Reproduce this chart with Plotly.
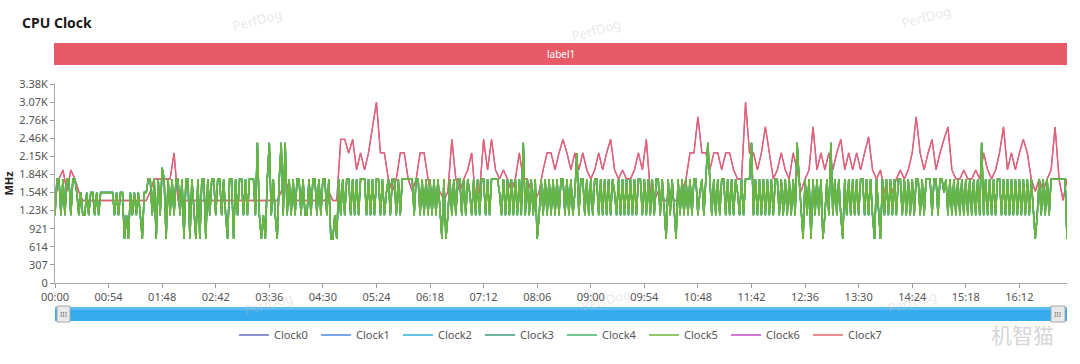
import plotly.graph_objects as go

# ---------------- data ----------------
# Clock0..Clock5 (little/mid cores, overlapping; Clock5 drawn on top) — one sample every 2 s
little_step_s = 2
clock5 = [
    1152, 1766, 1766, 1152, 1766, 1152, 1766, 1766, 1152, 1766,
    1766, 1536, 1152, 1536, 1152, 1152, 1536, 1152, 1536, 1536,
    1152, 1536, 1152, 1536, 1536, 1536, 1536, 1536, 1536, 1536,
    1152, 1536, 1152, 1536, 1536, 748, 1152, 748, 1536, 1152,
    1536, 1152, 1536, 1152, 748, 1536, 1536, 1766, 1766, 1152,
    1766, 748, 1766, 1152, 1958, 1766, 748, 1766, 1152, 1766,
    1152, 1766, 1766, 1152, 1766, 748, 1766, 1766, 748, 1766,
    1152, 748, 1766, 748, 1766, 1766, 748, 1766, 1152, 1766,
    1766, 1152, 1766, 1766, 1152, 1766, 1152, 748, 1766, 1766,
    748, 1766, 1152, 1766, 1766, 1152, 1766, 1152, 1766, 1766,
    1766, 1152, 2380, 1152, 748, 1152, 748, 1766, 2380, 1152,
    1766, 1152, 748, 1766, 2380, 1152, 2380, 1152, 1766, 1152,
    1766, 1152, 1766, 1766, 1152, 1766, 1152, 1152, 1766, 1152,
    1766, 1766, 1152, 1766, 1152, 1766, 1766, 1152, 1766, 748,
    748, 1152, 748, 1766, 1152, 1766, 1152, 1766, 1766, 1152,
    1766, 1152, 1766, 1152, 1766, 1766, 1766, 1152, 1766, 1152,
    1766, 1152, 1766, 1766, 1152, 1766, 1152, 1536, 1766, 1152,
    1766, 1766, 1152, 1766, 1152, 1766, 1766, 1766, 1766, 1766,
    1766, 1152, 1766, 1766, 1152, 1766, 1152, 1766, 1152, 1766,
    1152, 1766, 1152, 1766, 1152, 748, 1766, 748, 1152, 1766,
    1152, 1766, 1152, 1766, 1766, 1152, 1766, 1152, 1766, 1536,
    1152, 1766, 1152, 1766, 1152, 1766, 1766, 1152, 1766, 1152,
    1766, 1766, 1766, 1766, 1536, 1152, 1766, 1152, 1766, 1152,
    1766, 1152, 1766, 1152, 1766, 1152, 2380, 1152, 1766, 1152,
    1766, 1152, 1766, 748, 1152, 1766, 1152, 1766, 1152, 1766,
    1152, 1766, 1152, 1766, 1152, 1766, 1766, 1152, 1766, 1152,
    1766, 1152, 1536, 2208, 1152, 1766, 1766, 1152, 1766, 1152,
    1766, 1152, 1766, 1766, 1152, 1766, 1152, 1766, 1152, 1766,
    1152, 1766, 1536, 1152, 1766, 1152, 1766, 1152, 1766, 1152,
    1766, 1152, 1766, 1152, 1766, 1766, 1152, 1766, 1152, 1766,
    1152, 1766, 1152, 1766, 1766, 1152, 1766, 1152, 748, 1766,
    1152, 1766, 1152, 748, 1766, 1152, 1766, 1152, 1766, 1152,
    1766, 1152, 1766, 1766, 1152, 1536, 1766, 1152, 1766, 2380,
    1766, 1152, 1766, 1152, 1766, 1152, 1766, 1766, 1152, 1766,
    1152, 1766, 1152, 1766, 1536, 1152, 1766, 1152, 1766, 1766,
    1766, 2380, 1152, 1766, 1152, 1766, 1152, 1766, 1152, 1766,
    1152, 1766, 1152, 1766, 1766, 1152, 1766, 1152, 1766, 1152,
    1766, 1152, 1766, 1152, 2380, 1766, 1152, 748, 1766, 1152,
    1766, 748, 1766, 1152, 1766, 1152, 1766, 748, 1152, 1766,
    1152, 2380, 1152, 1766, 1152, 1766, 1152, 748, 1766, 1152,
    1766, 1152, 1766, 1152, 1766, 1152, 1766, 1766, 1152, 1766,
    1152, 1766, 1152, 748, 1766, 1152, 748, 1766, 1152, 1766,
    1152, 1766, 1152, 1766, 1152, 1766, 1766, 1152, 1766, 1152,
    1766, 1152, 1766, 1152, 1766, 1766, 1152, 1766, 1152, 1766,
    1766, 1766, 1152, 1766, 1766, 1152, 1766, 1766, 1536, 1766,
    1152, 1766, 1152, 1766, 1152, 1766, 1152, 1766, 1152, 1766,
    1152, 1766, 1152, 1766, 1152, 1766, 1152, 2380, 1152, 1766,
    1152, 1766, 1152, 1766, 1152, 1766, 1766, 1152, 1766, 1152,
    1766, 1152, 1766, 1152, 1766, 1152, 1766, 1152, 1766, 1152,
    1766, 1152, 1766, 1152, 748, 1152, 1766, 1152, 1766, 1152,
    1766, 1152, 1766, 1766, 1766, 1766, 1766, 1766, 1766, 1766,
    748,
]
clock0 = list(clock5)
clock1 = list(clock5)
clock2 = list(clock5)
clock3 = list(clock5)
clock4 = list(clock5)

# Clock6 / Clock7 (big cores; Clock7 drawn on top) — one sample every 4 s
big_step_s = 4
clock7 = [
    1401, 1766, 1920, 1555, 1920, 1766, 1555, 1401, 1401, 1401,
    1401, 1401, 1401, 1401, 1401, 1401, 1401, 1401, 1401, 1401,
    1401, 1401, 1401, 1401, 1555, 1766, 1766, 1766, 1766, 1766,
    2208, 1401, 1401, 1401, 1401, 1401, 1401, 1401, 1401, 1401,
    1401, 1401, 1401, 1401, 1401, 1401, 1401, 1401, 1401, 1401,
    1401, 1401, 1401, 1401, 1401, 1401, 1401, 1555, 1766, 1555,
    1401, 1401, 1401, 1401, 1401, 1401, 1401, 1401, 1401, 1555,
    1401, 1401, 2438, 2438, 2208, 2438, 1920, 2208, 1920, 2208,
    2650, 3070, 2208, 2208, 1766, 1555, 1766, 2208, 2208, 1766,
    1555, 1766, 2208, 2208, 1766, 1401, 1401, 1555, 1401, 1555,
    2438, 1766, 1555, 1766, 1920, 2208, 1401, 1555, 2438, 1920,
    2438, 1920, 1766, 1920, 1766, 1555, 1766, 2208, 1766, 1766,
    1555, 1401, 1555, 1920, 2208, 2208, 1920, 2208, 2438, 2208,
    1920, 2208, 1920, 2208, 1920, 1766, 1920, 2208, 1920, 2208,
    2438, 1920, 1766, 1920, 1766, 1766, 1920, 2208, 1920, 2438,
    1555, 1401, 1555, 1401, 1401, 1555, 1401, 1401, 1555, 1766,
    2208, 2208, 2822, 2208, 2208, 1920, 2208, 2208, 1920, 2208,
    2208, 1920, 1766, 1766, 3070, 2208, 2208, 1920, 2208, 2650,
    2208, 1766, 1920, 2208, 1920, 1766, 2208, 1920, 1555, 1766,
    1920, 2650, 1920, 2208, 1920, 2208, 1920, 2208, 2438, 1920,
    2208, 1920, 2208, 1920, 2208, 2480, 1920, 1766, 1920, 1555,
    1401, 1555, 1766, 1920, 1766, 1920, 2208, 2822, 2208, 1920,
    2208, 2438, 1920, 2208, 2438, 2650, 1920, 1766, 1766, 1920,
    1766, 1766, 1920, 1766, 2208, 1920, 1766, 1920, 2208, 2650,
    1920, 2208, 1920, 2208, 2438, 2208, 1766, 1555, 1766, 1555,
    1766, 1920, 2650, 1766, 1401, 1766,
]
clock6 = list(clock7)

series_names = ["Clock0", "Clock1", "Clock2", "Clock3", "Clock4", "Clock5", "Clock6", "Clock7"]
series_values = [clock0, clock1, clock2, clock3, clock4, clock5, clock6, clock7]
series_steps = [little_step_s] * 6 + [big_step_s] * 2
series_colors = ["#6a6fc8", "#4f88e6", "#2fb0d8", "#3f9e76", "#43b36c", "#6cb63a", "#c64cc2", "#e2646a"]
series_widths = [1.4, 1.4, 1.4, 1.4, 1.4, 1.6, 1.3, 1.3]

x_tick_labels = ["00:00", "00:54", "01:48", "02:42", "03:36", "04:30", "05:24", "06:18", "07:12",
                 "08:06", "09:00", "09:54", "10:48", "11:42", "12:36", "13:30", "14:24", "15:18", "16:12"]
y_tick_values = [0, 307, 614, 921, 1229, 1536, 1843, 2150, 2458, 2765, 3072, 3379]
y_tick_labels = ["0", "307", "614", "921", "1.23K", "1.54K", "1.84K", "2.15K", "2.46K", "2.76K", "3.07K", "3.38K"]

band_label = "label1"

# ---------------- figure ----------------
def mmss_to_s(s):
    m, sec = s.split(":")
    return int(m) * 60 + int(sec)

fig = go.Figure()
# draw order: big cores first, little cores on top
draw_order = [6, 7, 0, 1, 2, 3, 4, 5]
for k in draw_order:
    vals = series_values[k]
    times = [i * series_steps[k] for i in range(len(vals))]
    fig.add_trace(go.Scatter(
        x=times, y=vals, mode="lines", name=series_names[k],
        line=dict(color=series_colors[k], width=series_widths[k]),
        legendrank=k + 1,
    ))

x_end = (len(clock5) - 1) * little_step_s

W, H = 1080, 364
L, R, T, B = 55, 13, 84, 81
pw = W - L - R
ph = H - T - B

def px(x):
    return (x - L) / pw

def py(y):
    return (H - B - y) / ph

font_family = "Noto Sans, Open Sans, DejaVu Sans, sans-serif"

shapes = [
    # label band
    dict(type="rect", xref="paper", yref="paper", x0=px(54), x1=px(1067), y0=py(65), y1=py(43),
         fillcolor="#e95a68", line=dict(width=0), layer="above"),
    # data-zoom slider bar
    dict(type="rect", xref="paper", yref="paper", x0=px(55), x1=px(1067), y0=py(321), y1=py(307),
         fillcolor="#35aaec", line=dict(width=0)),
    dict(type="rect", xref="paper", yref="paper", x0=px(55), x1=px(1067), y0=py(310), y1=py(307),
         fillcolor="#5cbcf2", line=dict(width=0)),
    # handles
    dict(type="rect", xref="paper", yref="paper", x0=px(57), x1=px(70), y0=py(322), y1=py(306),
         fillcolor="#e9e9e9", line=dict(color="#a8a8a8", width=1)),
    dict(type="rect", xref="paper", yref="paper", x0=px(1051), x1=px(1065), y0=py(322), y1=py(306),
         fillcolor="#e9e9e9", line=dict(color="#a8a8a8", width=1)),
]

def ann(x, y, text, **kw):
    d = dict(xref="paper", yref="paper", x=px(x), y=py(y), text=text, showarrow=False,
             xanchor="center", yanchor="middle")
    d.update(kw)
    return d

annotations = [
    ann(561, 54, band_label, font=dict(size=10, color="white", family=font_family)),
    ann(63.5, 314, "III", font=dict(size=7, color="#777", family=font_family)),
    ann(1058, 314, "III", font=dict(size=7, color="#777", family=font_family)),
]
# watermarks
for (wx, wy) in [(257, 20), (596, 30), (926, 17), (268, 304), (606, 300), (912, 302)]:
    annotations.append(ann(wx, wy, "PerfDog", textangle=-15,
                           font=dict(size=13, color="rgba(190,190,190,0.35)", family=font_family)))
annotations.append(ann(1022, 334, "机智猫",
                       font=dict(size=21, color="#d6d6d6", family="Noto Sans CJK SC")))

fig.update_layout(
    width=W, height=H,
    margin=dict(l=L, r=R, t=T, b=B, pad=0),
    paper_bgcolor="white", plot_bgcolor="white",
    font=dict(family=font_family, size=11, color="#555"),
    title=dict(text="<b>CPU Clock</b>", xref="container", yref="container",
               x=22 / W, y=1 - 23 / H, xanchor="left", yanchor="middle",
               font=dict(size=14, color="#1a1a1a", family=font_family)),
    showlegend=True,
    legend=dict(orientation="h", xref="paper", yref="paper", x=px(562), y=py(335),
                xanchor="center", yanchor="middle",
                font=dict(size=11, color="#555"),
                entrywidth=37, entrywidthmode="pixels", itemwidth=30,
                bgcolor="rgba(0,0,0,0)", traceorder="normal"),
    shapes=shapes,
    annotations=annotations,
    hovermode="x",
)

fig.update_xaxes(
    range=[0, x_end],
    tickmode="array",
    tickvals=[mmss_to_s(s) for s in x_tick_labels],
    ticktext=x_tick_labels,
    ticks="outside", ticklen=4, tickcolor="#999",
    showline=True, linecolor="#aaa", linewidth=1,
    showgrid=False, zeroline=False, automargin=False,
    tickfont=dict(size=11, color="#555"),
)
fig.update_yaxes(
    range=[0, y_tick_values[-1]],
    tickmode="array",
    tickvals=y_tick_values,
    ticktext=y_tick_labels,
    ticks="outside", ticklen=4, tickcolor="#999",
    showline=True, linecolor="#aaa", linewidth=1,
    showgrid=False, zeroline=False, automargin=False,
    tickfont=dict(size=11, color="#555"),
    title=dict(text="<b>MHz</b>", font=dict(size=11, color="#222"), standoff=3),
)

fig.write_html("out.html", config={"displayModeBar": False},
               post_script="document.body.style.margin='0px';")
